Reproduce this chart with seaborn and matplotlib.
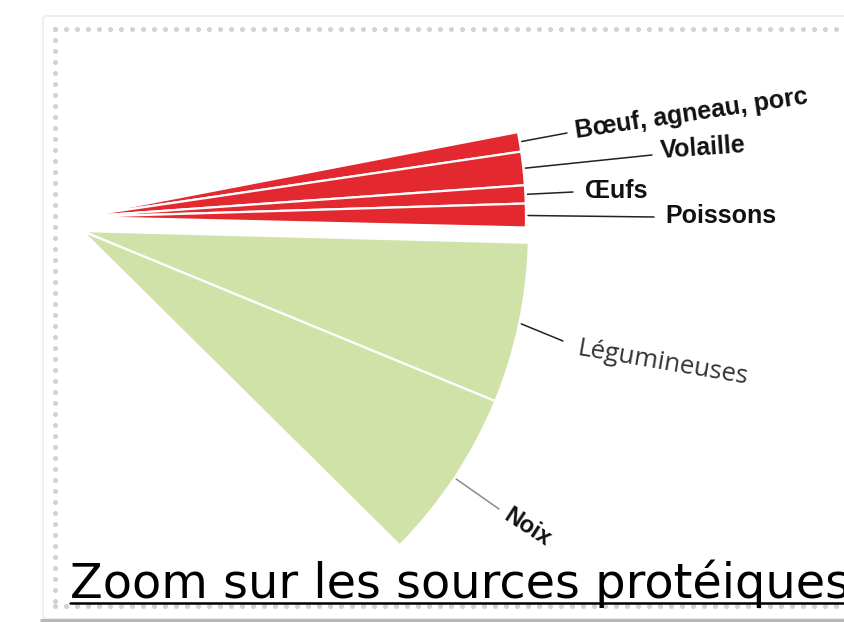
import numpy as np
import matplotlib
matplotlib.use("Agg")
import matplotlib.pyplot as plt
from matplotlib.patches import Wedge, FancyBboxPatch
import seaborn as sns

# shares of total protein intake (% of a full circle)
animal_labels = ["Bœuf, agneau, porc", "Volaille", "Œufs", "Poissons"]
animal_shares = [0.7, 1.2, 0.65, 0.85]
plant_labels = ["Légumineuses", "Noix"]
plant_shares = [5.8, 6.2]

TITLE = "Zoom sur les sources protéiques"

W, H = 845, 622
RED = "#e3282f"
GREEN = "#d0e2a8"


def set_style() -> None:
    sns.set_theme(style="white")
    plt.rcParams["font.family"] = ["DejaVu Sans"]


def y(py):
    # convert a pixel row (top-down) into data coords (bottom-up)
    return H - py


def draw_fan(ax, center, radius, start, shares, color):
    """Draw wedges clockwise from `start` degrees, return mid angles."""
    mids = []
    a = start
    for s in shares:
        span = s * 3.6
        ax.add_patch(Wedge(center, radius, a - span, a, facecolor=color,
                           edgecolor="white", linewidth=1.6))
        mids.append(a - span / 2)
        a -= span
    return mids


def arc_point(center, radius, ang):
    t = np.deg2rad(ang)
    return center[0] + radius * np.cos(t), center[1] + radius * np.sin(t)


set_style()
fig = plt.figure(figsize=(W / 100, H / 100), dpi=100)
ax = fig.add_axes([0, 0, 1, 1])
ax.set_xlim(0, W)
ax.set_ylim(0, H)
ax.set_aspect("equal")
ax.axis("off")

# card + dotted frame
ax.add_patch(FancyBboxPatch((43, y(619)), 900, 603, boxstyle="round,pad=0,rounding_size=4",
                            facecolor="white", edgecolor="#efefef", linewidth=1.5))
ax.plot([40, 900], [y(620), y(620)], color="#b8b8b8", lw=2.2, solid_capstyle="butt")
dot = dict(color="#d2d2d2", lw=0, marker="o", ms=2.6)
xs = np.arange(55, W + 5, 11)
ax.plot(xs, np.full_like(xs, y(29), dtype=float), **dot)
ys = np.arange(29, 608, 11)
ax.plot(np.full_like(ys, 55, dtype=float), y(ys), **dot)
ax.plot(xs, np.full_like(xs, y(606), dtype=float), **dot)

# fans
red_c, green_c = (77, y(217)), (82, y(231))
R = 449
red_mids = draw_fan(ax, red_c, R, 10.9, animal_shares, RED)
green_mids = draw_fan(ax, green_c, 447, -1.5, plant_shares, GREEN)

# labels: end of leader line (px), text anchor (px), rotation
animal_layout = [
    ((567, 133), (576, 138), 8.5),
    ((652, 155), (661, 158), 4.0),
    ((573, 192), (585, 198), 0.0),
    ((654, 217), (665, 223), 0.0),
]
for lab, mid, (end, anchor, rot) in zip(animal_labels, red_mids, animal_layout):
    sx, sy = arc_point(red_c, R + 2, mid)
    ax.plot([sx, end[0]], [sy, y(end[1])], color="#222222", lw=1.1)
    ax.text(anchor[0], y(anchor[1]), lab, rotation=rot, rotation_mode="anchor",
            ha="left", va="baseline", fontsize=18, fontweight="bold",
            family=["Liberation Sans", "DejaVu Sans"], color="#111111")

plant_layout = [
    ((563, 341), (577, 355), -9.7, "normal", "#333333", "#222222", 18.5),
    ((499, 509), (502, 519), -33.0, "bold", "#111111", "#8a8a8a", 17),
]
for lab, mid, (end, anchor, rot, wt, tc, lc, fs) in zip(plant_labels, green_mids, plant_layout):
    sx, sy = arc_point(green_c, 447 + 2, mid)
    ax.plot([sx, end[0]], [sy, y(end[1])], color=lc, lw=1.1)
    fam = ["Open Sans", "DejaVu Sans"] if wt == "normal" else ["Liberation Sans", "DejaVu Sans"]
    ax.text(anchor[0], y(anchor[1]), lab, rotation=rot, rotation_mode="anchor",
            ha="left", va="baseline", fontsize=fs, fontweight=wt,
            family=fam, color=tc)

# title with underline
ax.text(70, y(598), TITLE, ha="left", va="baseline", fontsize=34.5, color="black")
ax.plot([70, W], [y(603), y(603)], color="black", lw=1.8)

fig.savefig("out.png", dpi=100)
